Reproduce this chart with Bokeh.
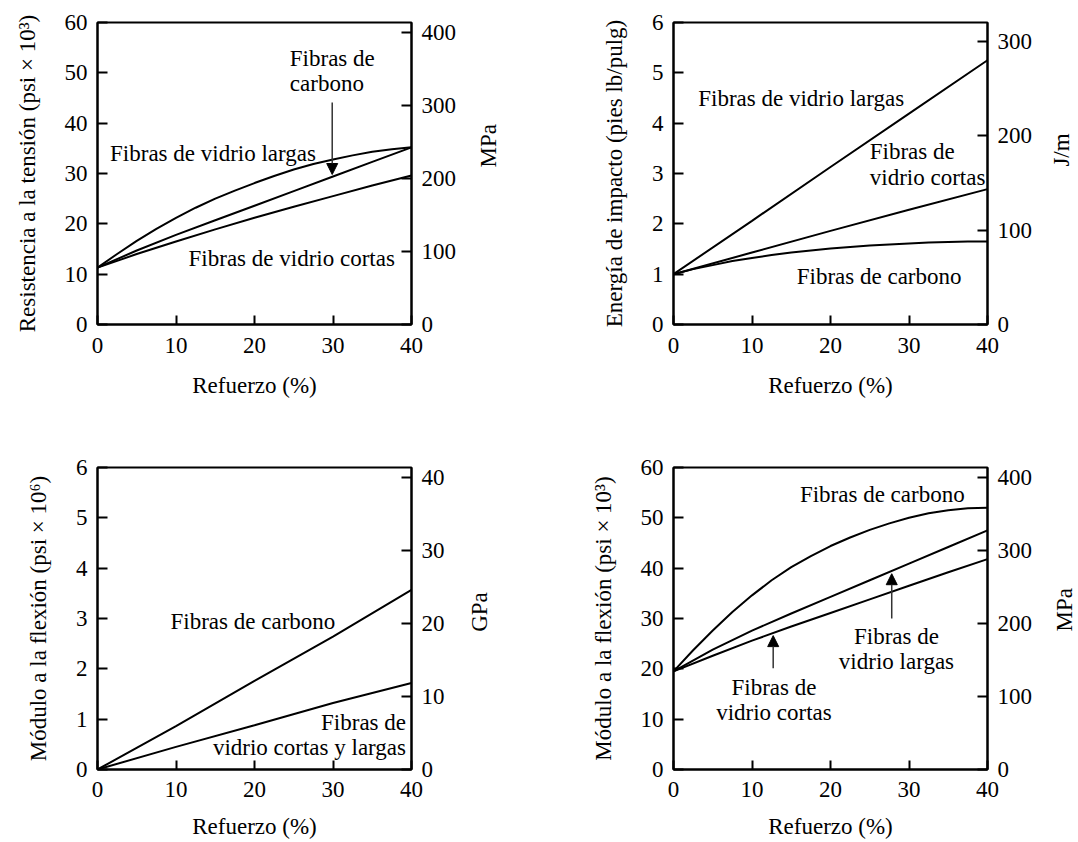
import math
from bokeh.plotting import figure
from bokeh.models import Range1d, LinearAxis, FixedTicker, Arrow, NormalHead, Label
from bokeh.layouts import column, row
from bokeh.core.properties import value
from bokeh.embed import file_html
from bokeh.resources import INLINE

FONT = "Liberation Serif"
FS = "23px"

# ---------------- data ----------------
refuerzo_fino = [0, 2.5, 5, 7.5, 10, 12.5, 15, 17.5, 20, 22.5, 25, 27.5, 30, 32.5, 35, 37.5, 40]
refuerzo = [0, 5, 10, 15, 20, 25, 30, 35, 40]
refuerzo_recto = [0, 10, 20, 30, 40]

# Resistencia a la tension (psi x 10^3)
ten_largas = [11.3, 14.0, 16.6, 19.0, 21.2, 23.2, 25.0, 26.6, 28.1, 29.5, 30.8,
              31.9, 32.8, 33.6, 34.3, 34.8, 35.2]                       # refuerzo_fino
ten_carbono = [11.3, 14.7, 17.8, 20.7, 23.6, 26.5, 29.4, 32.3, 35.2]     # refuerzo
ten_cortas = [11.3, 14.0, 16.5, 18.9, 21.2, 23.4, 25.5, 27.6, 29.6]      # refuerzo

# Energia de impacto (pies lb/pulg)
imp_largas = [1.0, 2.06, 3.13, 4.19, 5.25]          # refuerzo_recto
imp_cortas = [1.0, 1.43, 1.86, 2.28, 2.69]          # refuerzo_recto
imp_carbono = [1.0, 1.1, 1.18, 1.26, 1.32, 1.38, 1.43, 1.47, 1.51, 1.54, 1.57,
               1.59, 1.61, 1.63, 1.64, 1.65, 1.65]                      # refuerzo_fino

# Modulo a la flexion (psi x 10^6)
flx6_carbono = [0.0, 0.86, 1.76, 2.64, 3.57]        # refuerzo_recto
flx6_vidrio = [0.0, 0.45, 0.88, 1.32, 1.72]         # refuerzo_recto

# Modulo a la flexion (psi x 10^3)
flx3_carbono = [19.5, 23.7, 27.6, 31.3, 34.6, 37.6, 40.2, 42.4, 44.4, 46.1, 47.6,
                48.9, 50.0, 50.9, 51.5, 51.9, 52.0]                     # refuerzo_fino
flx3_largas = [19.5, 23.8, 27.6, 31.0, 34.3, 37.6, 40.9, 44.2, 47.5]    # refuerzo
flx3_cortas = [19.5, 22.6, 25.6, 28.4, 31.1, 33.8, 36.5, 39.2, 41.8]    # refuerzo

x_ticks = [0, 10, 20, 30, 40]
x_label = "Refuerzo (%)"

PSI_TO_MPA = 6.895
FTLB_TO_JM = 53.38


def style_axis(ax, ticks, label_standoff, axis_standoff, tick_len=10):
    ax.ticker = FixedTicker(ticks=ticks)
    ax.major_tick_in = tick_len
    ax.major_tick_out = 0
    ax.minor_tick_line_color = None
    ax.axis_line_width = 2
    ax.axis_line_color = "black"
    ax.major_tick_line_width = 2
    ax.major_tick_line_color = "black"
    ax.major_label_text_font = FONT
    ax.major_label_text_font_size = FS
    ax.major_label_text_color = "black"
    ax.major_label_standoff = label_standoff
    ax.axis_label_text_font = FONT
    ax.axis_label_text_font_size = FS
    ax.axis_label_text_font_style = "normal"
    ax.axis_label_text_color = "black"
    ax.axis_label_standoff = axis_standoff


def make_fig(w, h, bl, bt, ymax, yticks, ylabel, y2max, y2ticks, b_s1, b_s2):
    FW, FH = 314, 302
    p = figure(width=w, height=h, x_range=Range1d(0, 40), y_range=Range1d(0, ymax),
               output_backend="svg", toolbar_location=None,
               min_border_left=bl, min_border_right=w - bl - FW, min_border_top=bt,
               min_border_bottom=h - bt - FH, x_axis_label=x_label, y_axis_label=ylabel)
    p.grid.visible = False
    p.outline_line_color = "black"
    p.outline_line_width = 2
    p.background_fill_color = "white"
    p.border_fill_color = "white"
    style_axis(p.xaxis[0], x_ticks, b_s1, b_s2, tick_len=9)
    style_axis(p.yaxis[0], yticks, 10, 22)
    p.extra_y_ranges = {"r": Range1d(0, y2max)}
    ax2 = LinearAxis(y_range_name="r")
    style_axis(ax2, y2ticks, 10, 10)
    p.add_layout(ax2, "right")
    return p


def unit_fig(w, h, cx, cy_from_top, txt):
    """narrow strip holding the right-hand unit label, read bottom-to-top"""
    q = figure(width=w, height=h, x_range=Range1d(0, w), y_range=Range1d(0, h),
               output_backend="svg", toolbar_location=None,
               x_axis_location=None, y_axis_location=None,
               min_border_left=0, min_border_right=0, min_border_top=0, min_border_bottom=0)
    q.grid.visible = False
    q.outline_line_color = None
    q.background_fill_color = "white"
    q.border_fill_color = "white"
    q.text(x=[cx], y=[h - cy_from_top], text=[txt], angle=math.pi / 2,
           text_font=value(FONT), text_font_size=value(FS), text_color="black",
           text_align="center", text_baseline="middle")
    return q


def add_text(p, x, y, txt, align="left"):
    p.add_layout(Label(x=x, y=y, text=txt, text_font=FONT, text_font_size=FS,
                       text_color="black", text_align=align, text_baseline="middle"))


def add_arrow(p, x0, y0, x1, y1):
    p.add_layout(Arrow(end=NormalHead(size=11, fill_color="black", line_color="black",
                                      line_width=1),
                       x_start=x0, y_start=y0, x_end=x1, y_end=y1,
                       line_color="#333333", line_width=1.5))


def lines(p, xs, ys):
    p.line(xs, ys, line_color="black", line_width=2)


H1, H2 = 424, 418
bt2 = 467 - H1

# ---- panel 1: tension ----
p1 = make_fig(470, H1, 97, 22, 60,
              [0, 10, 20, 30, 40, 50, 60], "Resistencia a la tensión (psi × 10³)",
              60 * PSI_TO_MPA, [0, 100, 200, 300, 400], 13, 17)
lines(p1, refuerzo_fino, ten_largas)
lines(p1, refuerzo, ten_carbono)
lines(p1, refuerzo, ten_cortas)
add_text(p1, 1.6, 34.0, "Fibras de vidrio largas")
add_text(p1, 11.6, 13.1, "Fibras de vidrio cortas")
add_text(p1, 24.5, 52.8, "Fibras de")
add_text(p1, 24.5, 47.8, "carbono")
add_arrow(p1, 29.9, 44.1, 29.9, 29.8)
u1 = unit_fig(36, H1, 18, 173, "MPa")

# ---- panel 2: impacto ----
p2 = make_fig(534, H1, 167, 22, 6,
              [0, 1, 2, 3, 4, 5, 6], "Energía de impacto (pies lb/pulg)",
              6 * FTLB_TO_JM, [0, 100, 200, 300], 13, 17)
lines(p2, refuerzo_recto, imp_largas)
lines(p2, refuerzo_recto, imp_cortas)
lines(p2, refuerzo_fino, imp_carbono)
add_text(p2, 3.15, 4.49, "Fibras de vidrio largas")
add_text(p2, 25.0, 3.43, "Fibras de")
add_text(p2, 25.0, 2.93, "vidrio cortas")
add_text(p2, 15.7, 0.96, "Fibras de carbono")
u2 = unit_fig(38, H1, 21, 179, "J/m")

# ---- panel 3: modulo (psi x 10^6) ----
p3 = make_fig(460, H2, 97, bt2, 6,
              [0, 1, 2, 3, 4, 5, 6], "Módulo a la flexión (psi × 10⁶)",
              6 * PSI_TO_MPA, [0, 10, 20, 30, 40], 12, 14)
lines(p3, refuerzo_recto, flx6_carbono)
lines(p3, refuerzo_recto, flx6_vidrio)
add_text(p3, 9.3, 2.95, "Fibras de carbono")
add_text(p3, 39.3, 0.93, "Fibras de", align="right")
add_text(p3, 39.3, 0.43, "vidrio cortas y largas", align="right")
u3 = unit_fig(46, H2, 19, 624 - H1, "GPa")

# ---- panel 4: modulo (psi x 10^3) ----
p4 = make_fig(534, H2, 167, bt2, 60,
              [0, 10, 20, 30, 40, 50, 60], "Módulo a la flexión (psi × 10³)",
              60 * PSI_TO_MPA, [0, 100, 200, 300, 400], 12, 14)
lines(p4, refuerzo_fino, flx3_carbono)
lines(p4, refuerzo, flx3_largas)
lines(p4, refuerzo, flx3_cortas)
add_text(p4, 16.1, 54.6, "Fibras de carbono")
add_text(p4, 28.4, 26.4, "Fibras de", align="center")
add_text(p4, 28.4, 21.4, "vidrio largas", align="center")
add_text(p4, 12.8, 16.2, "Fibras de", align="center")
add_text(p4, 12.8, 11.3, "vidrio cortas", align="center")
add_arrow(p4, 12.7, 20.1, 12.7, 26.6)
add_arrow(p4, 27.8, 30.0, 27.8, 38.9)
u4 = unit_fig(38, H2, 24, 621 - H1, "MPa")

layout = column(row(p1, u1, p2, u2), row(p3, u3, p4, u4))
open("out.html", "w").write(file_html(layout, INLINE))
